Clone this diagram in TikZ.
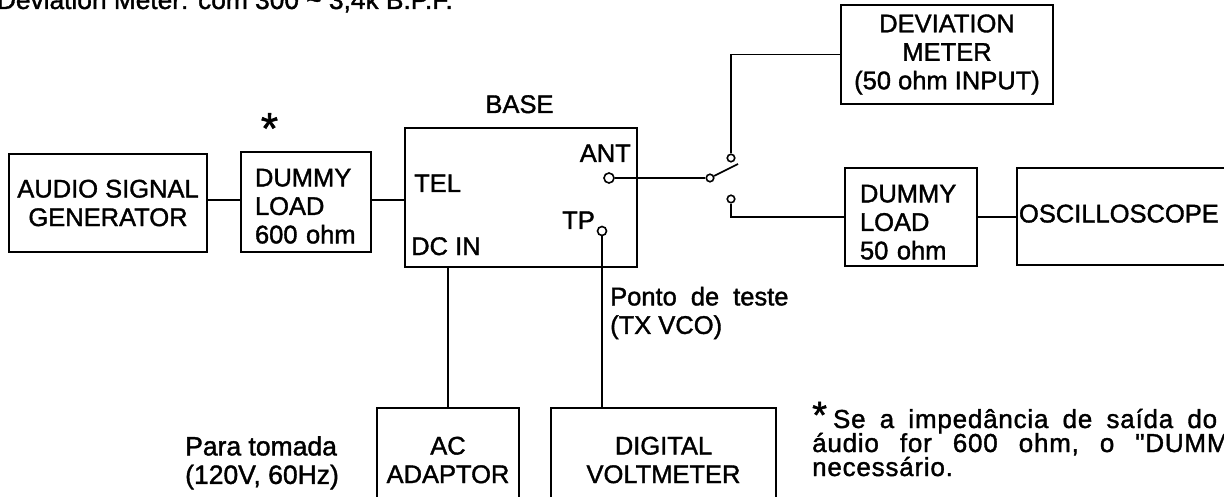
\documentclass[tikz,border=0pt]{standalone}
\usepackage{fontspec}
\setmainfont{Liberation Sans}[FakeBold=1.4]
\newfontfamily\notefont{Liberation Sans}[LetterSpace=3,FakeBold=1.4]
\tikzset{
  box/.style={draw, line width=1.9pt, rectangle, inner sep=0pt, align=center,
    font=\fontsize{25.5}{28.5}\selectfont},
  lbox/.style={box, align=left},
  wire/.style={line width=1.7pt},
  port/.style={draw, circle, line width=1.6pt, inner sep=0pt, minimum size=#1},
  lbl/.style={inner sep=0pt, font=\fontsize{25.5}{28.5}\selectfont},
  note/.style={inner sep=0pt, font=\notefont\fontsize{26}{28}\selectfont},
  astmark/.style={inner sep=0pt, anchor=north, font=\fontsize{#1}{#1}\selectfont},
}
\begin{document}
\begin{tikzpicture}[x=1pt,y=-1pt]
\path[use as bounding box, fill=white] (0,0) rectangle (1224,497);
\clip (0,0) rectangle (1224,497);

\node[lbl, font=\fontsize{26.3}{28}\selectfont, anchor=base east] (title) at (453,9) {Deviation Meter: com 300 \textasciitilde{} 3,4k B.P.F.};

% left chain
\node[box, minimum width=198pt, minimum height=98pt] (gen) at (108,203) {AUDIO SIGNAL\\GENERATOR};
\node[lbox, text width=102pt, inner xsep=14pt, minimum height=100pt] (dl600) at (306,202) {\rule{0pt}{26pt}DUMMY\\LOAD\\600 ohm};
\node[astmark=44] (ast1) at (269.5,113) {*};

% base unit
\node[box, minimum width=232pt, minimum height=139pt] (base) at (521,197.5) {};
\node[lbl, anchor=base] (baselbl) at (519.5,113) {BASE};
\node[lbl, anchor=base west] (tel) at (414,192) {TEL};
\node[lbl, anchor=base west] (dcin) at (411,255) {DC IN};
\node[lbl, anchor=base east] (ant) at (631,162) {ANT};
\node[lbl, anchor=base east] (tp) at (595,229) {TP};
\node[port=10pt] (antc) at (609,178) {};
\node[port=9pt] (tpc) at (602,231) {};

% switch
\node[port=7.5pt] (swp) at (710,178) {};
\node[port=7.5pt] (swa) at (731,158) {};
\node[port=7.5pt] (swb) at (731,199) {};
\coordinate (arm) at (738,164);

% right side
\node[box, minimum width=212pt, minimum height=99pt] (dev) at (947,54.5) {DEVIATION\\METER\\(50 ohm INPUT)};
\node[lbox, text width=102pt, inner xsep=15pt, minimum height=98pt] (dl50) at (911,217) {\rule{0pt}{28pt}DUMMY\\LOAD\\50 ohm};
\node[lbox, text width=219pt, inner xsep=2pt, minimum height=97pt, text depth=6pt] (osc) at (1128.5,216.5) {OSCILLOSCOPE};

% bottom
\node[box, minimum width=142pt, minimum height=104pt] (ac) at (448,460) {AC\\ADAPTOR};
\node[box, minimum width=225pt, minimum height=104pt] (dvm) at (663.5,460) {DIGITAL\\VOLTMETER};
\node[lbl, font=\fontsize{26.5}{28.5}\selectfont, align=left, anchor=north west] (para) at (185,436) {Para tomada\\(120V, 60Hz)};
\node[lbl, align=left, anchor=north west] (ponto) at (610,286.7) {\spaceskip=14pt Ponto de teste\\(TX VCO)};

% footnote
\node[note, anchor=base west] (n1) at (812,428) {\makebox[405pt][s]{{\fontsize{38}{38}\selectfont *}\hspace*{6pt}Se a impedância de saída do}};
\node[note, anchor=base west] (n2) at (812,452) {\spaceskip=21pt áudio for 600 ohm, o "DUMMY};
\node[note, anchor=base west] (n3) at (812,476) {necessário.};

% wires
\draw[wire] (gen.east |- 0,200) -- (dl600.west |- 0,200);
\draw[wire] (dl600.east |- 0,200) -- (base.west |- 0,200);
\draw[wire] (antc) -- (swp);
\draw[wire] (swp.27) -- (arm);
\draw[wire] (swa) |- (dev.west);
\draw[wire] (swb) |- (dl50.west);
\draw[wire] (dl50.east) -- (osc.west |- dl50.east);
\draw[wire] (tpc) -- (tpc |- dvm.north);
\draw[wire] (ac.north |- base.south) -- (ac.north);
\end{tikzpicture}
\end{document}
